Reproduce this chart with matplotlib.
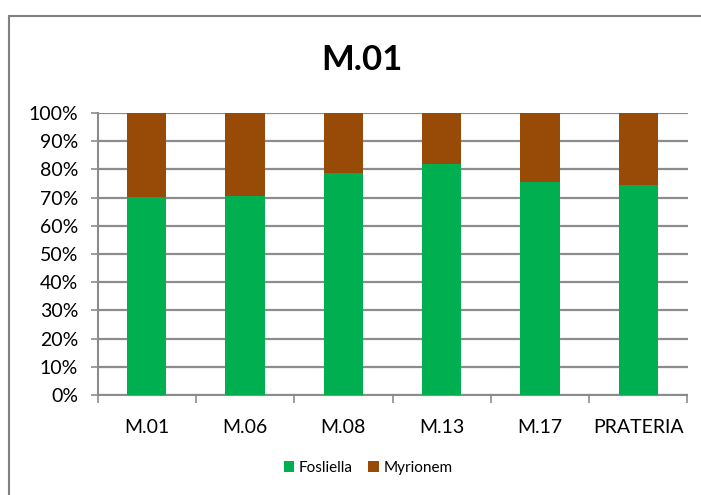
import numpy as np
import matplotlib.pyplot as plt
from matplotlib.patches import Rectangle

sites = ["M.01", "M.06", "M.08", "M.13", "M.17", "PRATERIA"]
fosliella = [70.1, 70.6, 78.6, 81.8, 75.5, 74.5]
myrionem = [100 - v for v in fosliella]

green = "#00B050"
brown = "#984A07"
grid_col = "#8C8C8C"

plt.rcParams['font.family'] = ['Lato', 'DejaVu Sans']

fig = plt.figure(figsize=(7.01, 4.95), dpi=100)
ax = fig.add_axes([97.5 / 701, 1 - 395 / 495, 590 / 701, 282 / 495])

# outer chart border, runs off the right and bottom edges
fig.patches.append(Rectangle((9 / 701, -0.1), 1.1, 1 - 16 / 495 + 0.1,
                             transform=fig.transFigure, fill=False,
                             edgecolor="#808080", linewidth=1.5))

x = np.arange(len(sites))
ax.bar(x, fosliella, width=0.4, color=green, label="Fosliella", zorder=3)
ax.bar(x, myrionem, width=0.4, bottom=fosliella, color=brown, label="Myrionem", zorder=3)

ax.set_xlim(-0.5, len(sites) - 0.5)
ax.set_ylim(0, 100)
ax.set_yticks(np.arange(0, 101, 10))
ax.set_yticklabels([f"{v}%" for v in range(0, 101, 10)], fontsize=14)
ax.yaxis.grid(True, color=grid_col, linewidth=1.6, zorder=0)
ax.set_axisbelow(True)

ax.set_xticks(x)
ax.set_xticklabels(sites, fontsize=14)
ax.set_xticks(np.arange(-0.5, len(sites), 1), minor=True)
ax.tick_params(axis="x", which="major", length=0, pad=17)
ax.tick_params(axis="x", which="minor", length=6, color=grid_col, width=1.2)
ax.tick_params(axis="y", length=5, color=grid_col, width=1.2, pad=9)

for s in ["top", "right"]:
    ax.spines[s].set_visible(False)
for s in ["left", "bottom"]:
    ax.spines[s].set_color(grid_col)
    ax.spines[s].set_linewidth(1.5)

fig.text(362 / 701, 1 - 60 / 495, "M.01", fontsize=25, fontweight="bold",
         ha="center", va="center")

fig.legend(loc="center", bbox_to_anchor=(368 / 701, 1 - 468 / 495), ncol=2,
           frameon=False, fontsize=11, handlelength=0.7, handleheight=0.7,
           handletextpad=0.3, columnspacing=1.0)

fig.savefig("out.png", dpi=100)
